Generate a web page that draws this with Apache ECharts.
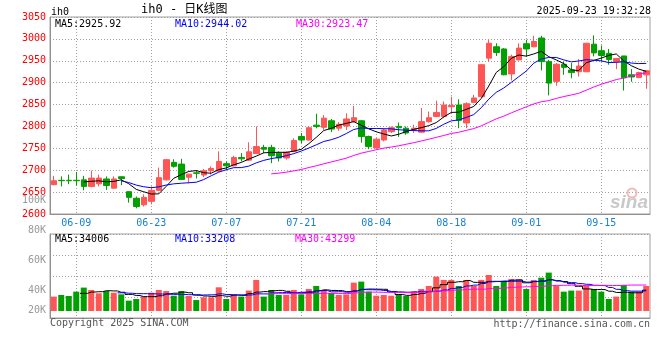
<!DOCTYPE html>
<html><head><meta charset="utf-8">
<script src="https://cdn.jsdelivr.net/npm/echarts@6/dist/echarts.min.js"></script>
<style>html,body{margin:0;padding:0;background:#fff}#c{width:660px;height:360px}</style>
</head><body><div id="c"></div>
<script>
const dates = ['06-04','06-05','06-06','06-09','06-10','06-11','06-12','06-13','06-16','06-17','06-18','06-19','06-20','06-23','06-24','06-25','06-26','06-27','06-30','07-01','07-02','07-03','07-04','07-07','07-08','07-09','07-10','07-11','07-14','07-15','07-16','07-17','07-18','07-21','07-22','07-23','07-24','07-25','07-28','07-29','07-30','07-31','08-01','08-04','08-05','08-06','08-07','08-08','08-11','08-12','08-13','08-14','08-15','08-18','08-19','08-20','08-21','08-22','08-25','08-26','08-27','08-28','08-29','09-01','09-02','09-03','09-04','09-05','09-08','09-09','09-10','09-11','09-12','09-15','09-16','09-17','09-18','09-19','09-22','09-23'];
const opens  = [2667,2677,2677,2677,2678,2663,2669,2680,2659,2685,2651,2636,2621,2629,2654,2678,2718,2714,2684,2694,2689,2699,2698,2715,2710,2729,2723,2738,2752,2752,2739,2728,2743,2777,2769,2803,2798,2813,2796,2801,2811,2813,2777,2751,2769,2788,2800,2796,2793,2787,2811,2823,2823,2845,2849,2808,2855,2868,2956,2982,2977,2920,2952,2989,2982,3002,2948,2903,2942,2929,2925,2925,2988,2973,2967,2948,2961,2918,2912,2918];
const closes = [2676,2676,2676,2676,2663,2682,2682,2665,2680,2681,2638,2617,2638,2654,2683,2724,2709,2679,2691,2693,2699,2704,2720,2710,2729,2726,2742,2754,2748,2733,2728,2741,2768,2769,2797,2800,2819,2794,2805,2817,2820,2777,2754,2771,2792,2797,2797,2785,2796,2811,2820,2832,2849,2848,2814,2852,2865,2941,2990,2969,2918,2960,2979,2977,2994,2948,2899,2942,2935,2923,2938,2990,2968,2962,2953,2955,2911,2913,2923,2927];
const lows   = [2666,2663,2668,2665,2654,2661,2663,2655,2658,2666,2626,2613,2617,2622,2652,2676,2706,2678,2670,2681,2684,2690,2696,2701,2709,2720,2721,2737,2739,2716,2720,2724,2741,2762,2767,2796,2792,2787,2790,2792,2809,2763,2748,2749,2766,2785,2776,2781,2785,2786,2809,2821,2819,2830,2796,2796,2854,2866,2948,2961,2917,2905,2951,2960,2981,2928,2871,2893,2918,2910,2914,2924,2960,2948,2941,2931,2882,2902,2910,2886];
const highs  = [2687,2686,2690,2696,2687,2699,2690,2686,2686,2686,2652,2640,2645,2663,2706,2726,2725,2726,2692,2700,2703,2709,2743,2720,2733,2739,2764,2800,2758,2758,2743,2743,2773,2785,2800,2829,2826,2817,2810,2830,2847,2815,2779,2773,2796,2800,2809,2800,2804,2842,2834,2859,2857,2868,2862,2855,2872,2942,2998,2990,2979,2964,2990,2998,3007,3007,2952,2945,2948,2945,2954,2991,3008,2985,2977,2956,2961,2931,2925,2929];
const volumes = [35600,36700,36000,38900,41600,40000,37800,39300,38200,37100,32900,34000,35600,38200,40000,39300,36200,39300,36000,33300,35100,35100,41800,34000,37100,35600,39600,46700,35600,40000,36700,36700,40000,37100,40700,42700,40000,38000,36700,37100,44900,45600,38900,36200,36700,36200,37100,36000,38900,40700,42700,48900,46700,46700,42700,46700,42700,46700,50000,42700,46000,47300,47300,40700,46700,48200,51600,42700,38900,39600,39600,42700,40700,38900,34000,35600,43300,38900,38900,42700];
const priceMin = 2600, priceMax = 3050, priceStep = 50;
const volTickValues = [20000, 40000, 60000, 80000, 100000];
const volTickText = ['20K', '40K', '60K', '80K', '100K'];
const mainMaText = ['MA5:2925.92', 'MA10:2944.02', 'MA30:2923.47'];
const volMaText = ['MA5:34006', 'MA10:33208', 'MA30:43299'];
const headerCode = 'ih0';
const headerTitle = 'ih0 - 日K线图';
const headerTime = '2025-09-23 19:32:28';
const footerLeft = 'Copyright 2025 SINA.COM';
const footerRight = 'http://finance.sina.com.cn';
const watermark = 'sina';

const UP = '#ff5555', DOWN = '#00a000';
const MA_COLORS = ['#000000', '#0000ff', '#ff00ff'];
const MONO = 'DejaVu Sans Mono';
const GRIDC = '#a0a0a0';
const dotted = { show: true, lineStyle: { color: GRIDC, type: [1, 2], width: 1 } };

function ma(arr, n) {
  return arr.map((v, i) => {
    if (i < n - 1) return '-';
    let s = 0;
    for (let j = i - n + 1; j <= i; j++) s += arr[j];
    return +(s / n).toFixed(2);
  });
}

const candleData = opens.map((o, i) => [o, closes[i], lows[i], highs[i]]);
const dateTick = (i) => i % 10 === 3;

const chart = echarts.init(document.getElementById('c'), null, { renderer: 'canvas' });

function txt(text, x, y, color, size, align, family) {
  return { type: 'text', x: x, y: y, z: 100,
    style: { text: text, fill: color, font: size + 'px ' + (family || MONO),
             align: align || 'left', verticalAlign: 'middle',
             textAlign: align || 'left', textVerticalAlign: 'middle' } };
}

const option = {
  animation: false,
  backgroundColor: '#ffffff',
  grid: [
    { left: 50, top: 17, width: 600, height: 197, show: true, borderColor: GRIDC, borderWidth: 1, outerBoundsMode: 'none' },
    { left: 50, top: 200, width: 600, height: 111, outerBoundsMode: 'none' },
    { left: 50, top: 200, width: 600, height: 120, outerBoundsMode: 'none' },
    { left: 50, top: 234, width: 600, height: 84, show: true, borderColor: GRIDC, borderWidth: 1, outerBoundsMode: 'none' }
  ],
  xAxis: [
    { type: 'category', gridIndex: 0, data: dates, boundaryGap: true,
      axisLine: { show: true, lineStyle: { color: '#909090', width: 1 } },
      axisTick: { show: false },
      axisLabel: { interval: dateTick, color: '#1a80d0', fontFamily: MONO, fontSize: 10, margin: 4 },
      splitLine: Object.assign({ interval: dateTick, alignWithLabel: true }, dotted) },
    { type: 'category', gridIndex: 1, data: dates, show: false },
    { type: 'category', gridIndex: 2, data: dates, show: false },
    { type: 'category', gridIndex: 3, data: dates,
      axisLine: { show: true, lineStyle: { color: '#909090', width: 1 } },
      axisTick: { show: false }, axisLabel: { show: false },
      splitLine: Object.assign({ interval: dateTick, alignWithLabel: true }, dotted) }
  ],
  yAxis: [
    { type: 'value', gridIndex: 0, min: priceMin, max: priceMax, interval: priceStep,
      axisLine: { show: true, lineStyle: { color: '#909090', width: 1 } },
      axisTick: { show: false },
      axisLabel: { color: '#ff0000', fontFamily: MONO, fontSize: 10, margin: 4, formatter: (v) => String(v) },
      splitLine: dotted },
    { type: 'value', gridIndex: 1, min: 26000, max: 100000, show: false, splitLine: { show: false } },
    { type: 'value', gridIndex: 2, min: volTickValues[0], max: volTickValues[volTickValues.length - 1], interval: 20000,
      axisLine: { show: false }, axisTick: { show: false }, splitLine: { show: false },
      axisLabel: { color: '#999999', fontFamily: MONO, fontSize: 10, margin: 4,
        formatter: (v) => { const i = volTickValues.indexOf(v); const t = i >= 0 ? volTickText[i] : '';
          return i === 0 ? '{lift|' + t + '}' : t; },
        rich: { lift: { padding: [0, 0, 20, 0], color: '#999999', fontFamily: MONO, fontSize: 10 } } } },
    { type: 'value', gridIndex: 3, min: 0, max: 4, interval: 1,
      axisLine: { show: true, lineStyle: { color: '#909090', width: 1 } },
      axisTick: { show: false }, axisLabel: { show: false }, splitLine: dotted }
  ],
  series: [
    { type: 'candlestick', xAxisIndex: 0, yAxisIndex: 0, data: candleData, barWidth: 6,
      itemStyle: { color: UP, color0: DOWN, borderColor: UP, borderColor0: DOWN, borderWidth: 1 } },
    { type: 'line', name: 'MA5', xAxisIndex: 0, yAxisIndex: 0, data: ma(closes, 5), showSymbol: false, symbol: 'none',
      lineStyle: { color: MA_COLORS[0], width: 1 }, z: 5 },
    { type: 'line', name: 'MA10', xAxisIndex: 0, yAxisIndex: 0, data: ma(closes, 10), showSymbol: false, symbol: 'none',
      lineStyle: { color: MA_COLORS[1], width: 1 }, z: 5 },
    { type: 'line', name: 'MA30', xAxisIndex: 0, yAxisIndex: 0, data: ma(closes, 30), showSymbol: false, symbol: 'none',
      lineStyle: { color: MA_COLORS[2], width: 1 }, z: 5 },
    { type: 'bar', xAxisIndex: 1, yAxisIndex: 1, data: volumes, barWidth: 6, clip: true,
      itemStyle: { color: (p) => closes[p.dataIndex] > opens[p.dataIndex] ? UP : DOWN } },
    { type: 'line', xAxisIndex: 1, yAxisIndex: 1, data: ma(volumes, 5), step: 'middle', showSymbol: false, symbol: 'none',
      lineStyle: { color: MA_COLORS[0], width: 1 }, z: 5 },
    { type: 'line', xAxisIndex: 1, yAxisIndex: 1, data: ma(volumes, 10), step: 'middle', showSymbol: false, symbol: 'none',
      lineStyle: { color: MA_COLORS[1], width: 1 }, z: 5 },
    { type: 'line', xAxisIndex: 1, yAxisIndex: 1, data: ma(volumes, 30), step: 'middle', showSymbol: false, symbol: 'none',
      lineStyle: { color: MA_COLORS[2], width: 1 }, z: 5 }
  ],
  graphic: [
    txt(headerCode, 51, 12, '#000000', 10),
    txt(headerTitle, 141, 10, '#000000', 12, 'left', MONO + ', "Noto Sans CJK SC"'),
    txt(headerTime, 651, 11, '#000000', 10, 'right'),
    txt(mainMaText[0], 55, 24, MA_COLORS[0], 10),
    txt(mainMaText[1], 175, 24, MA_COLORS[1], 10),
    txt(mainMaText[2], 296, 24, MA_COLORS[2], 10),
    txt(volMaText[0], 55, 239, MA_COLORS[0], 10),
    txt(volMaText[1], 175, 239, MA_COLORS[1], 10),
    txt(volMaText[2], 295, 239, MA_COLORS[2], 10),
    txt(footerLeft, 50, 323, '#555555', 10),
    txt(footerRight, 650, 324, '#555555', 10, 'right'),
    { type: 'circle', shape: { cx: 632, cy: 193, r: 4.5 }, z: 1,
      style: { fill: 'none', stroke: '#f3b9b9', lineWidth: 2 } },
    { type: 'text', x: 648, y: 203, z: 1,
      style: { text: watermark, fill: '#c9c9c9', font: 'italic bold 19px "Liberation Sans"',
               align: 'right', verticalAlign: 'middle', textAlign: 'right', textVerticalAlign: 'middle' } }
  ]
};
chart.setOption(option);
</script>
</body></html>
